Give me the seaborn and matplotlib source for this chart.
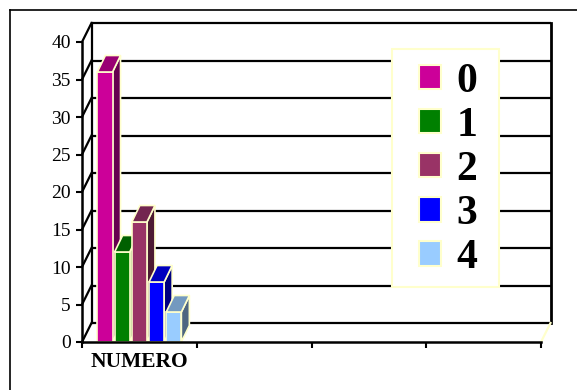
import numpy as np
import pandas as pd
import matplotlib
matplotlib.use("Agg")
import matplotlib.pyplot as plt
from matplotlib.patches import Polygon, Patch, Rectangle
from matplotlib.lines import Line2D
import seaborn as sns

# ---- data ----
category = "NUMERO"
series = ["0", "1", "2", "3", "4"]
values = [36, 12, 16, 8, 4]
front_colors = ["#CC0099", "#008000", "#993366", "#0000FF", "#99CCFF"]
top_colors = ["#990073", "#006000", "#732650", "#0000BF", "#7399BF"]
side_colors = ["#660050", "#004000", "#4D1A33", "#000080", "#4D6680"]
y_ticks = [0, 5, 10, 15, 20, 25, 30, 35, 40]
n_slots = 4

df = pd.DataFrame({"cat": [category] * len(series), "serie": series, "val": values})

plt.rcParams["font.family"] = ["Liberation Serif", "DejaVu Serif"]
edge = "#FFFFCC"

W, H = 577, 390
fig = plt.figure(figsize=(W / 100, H / 100), dpi=100)
fig.patch.set_facecolor("white")
ax = fig.add_axes([82 / W, (H - 342) / H, 459 / W, 300 / H])
ax.set_facecolor("none")

sns.barplot(data=df, x="cat", y="val", hue="serie", palette=front_colors,
            saturation=1, width=0.75, gap=0.12, ax=ax, edgecolor=edge,
            linewidth=1.2, legend=False, zorder=3)

ax.set_xlim(-0.5, n_slots - 0.5)
ax.set_ylim(0, 40)

# pixel -> data conversions
px_x = n_slots / 459.0
px_y = 40 / 300.0
wdx, wdy = 9.5 * px_x, 19 * px_y   # wall depth
bdx, bdy = 8 * px_x, 16.5 * px_y   # bar depth

x0w = -0.5 + wdx
x1w = n_slots - 0.5 + wdx
# back wall gridlines and side wall diagonals
for yv in y_ticks:
    ax.plot([x0w, x1w], [yv + wdy, yv + wdy], color="black", lw=1.6,
            zorder=1, clip_on=False, solid_capstyle="butt")
    ax.plot([-0.5, x0w], [yv, yv + wdy], color="black", lw=1.6,
            zorder=1, clip_on=False)
ax.plot([x0w, x0w], [wdy, 40 + wdy], color="black", lw=1.6, zorder=1, clip_on=False)
ax.plot([x1w, x1w], [wdy, 40 + wdy], color="black", lw=2.0, zorder=1, clip_on=False)
ax.plot([n_slots - 0.5, x1w], [0, wdy], color=edge, lw=1.6, zorder=1, clip_on=False)

# 3D faces for bars
for i, cont in enumerate(ax.containers):
    for bar in cont:
        x0 = bar.get_x()
        x1 = x0 + bar.get_width()
        h = bar.get_height()
        top = Polygon([(x0, h), (x1, h), (x1 + bdx, h + bdy), (x0 + bdx, h + bdy)],
                      closed=True, facecolor=top_colors[i], edgecolor=edge,
                      lw=1.2, zorder=3 + i * 0.1, clip_on=False)
        side = Polygon([(x1, 0), (x1 + bdx, bdy), (x1 + bdx, h + bdy), (x1, h)],
                       closed=True, facecolor=side_colors[i], edgecolor=edge,
                       lw=1.2, zorder=3 + i * 0.1 - 0.05, clip_on=False)
        bar.set_zorder(3 + i * 0.1)
        ax.add_patch(side)
        ax.add_patch(top)

# axes styling
for s in ["top", "right"]:
    ax.spines[s].set_visible(False)
for s in ["left", "bottom"]:
    ax.spines[s].set_color("black")
    ax.spines[s].set_linewidth(1.8)
    ax.spines[s].set_zorder(5)

ax.set_yticks(y_ticks)
ax.set_yticklabels([str(v) for v in y_ticks], fontsize=14)
ax.tick_params(axis="y", length=4, width=1.5, pad=4, colors="black")

ax.set_xticks(np.arange(n_slots + 1) - 0.5)
ax.set_xticklabels([""] * (n_slots + 1))
ax.tick_params(axis="x", which="major", length=4, width=1.5, direction="out")
ax.set_xticks([0], minor=True)
ax.set_xticklabels([category], minor=True, fontsize=15.5, fontweight="bold")
ax.tick_params(axis="x", which="minor", length=0, pad=7)
ax.set_xlabel("")
ax.set_ylabel("")

# legend frame
fig.add_artist(Rectangle((392 / W, 1 - 287 / H), 107 / W, 238 / H,
                         transform=fig.transFigure, facecolor="white",
                         edgecolor=edge, lw=1.5, zorder=9))
handles = [Patch(facecolor=c, edgecolor=edge, lw=1.5) for c in front_colors]
leg = fig.legend(handles, series, loc="upper left",
                 bbox_to_anchor=(419 / W, 1 - 63 / H), borderaxespad=0,
                 prop={"family": "Liberation Serif", "weight": "bold", "size": 30},
                 handlelength=0.52, handleheight=0.52, handletextpad=0.38,
                 labelspacing=0.145, borderpad=0.0, frameon=False)
leg.set_zorder(10)

# outer frame (left and top edges visible)
fig.add_artist(Line2D([10 / W, 10 / W], [0, 1 - 10 / H], color="black", lw=1.2,
                      transform=fig.transFigure))
fig.add_artist(Line2D([10 / W, 1], [1 - 10 / H, 1 - 10 / H], color="black", lw=1.2,
                      transform=fig.transFigure))

fig.savefig("out.png", dpi=100)
